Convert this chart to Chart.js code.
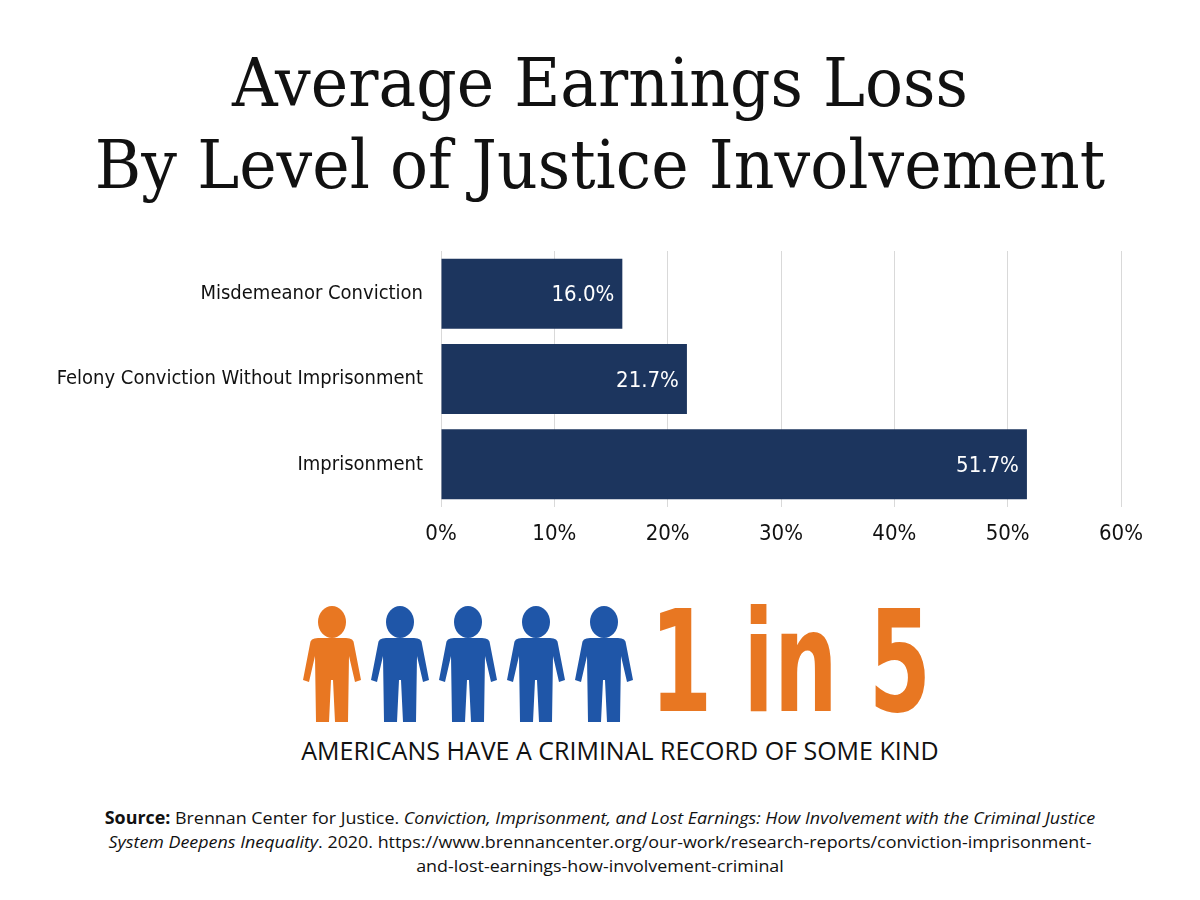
<!DOCTYPE html>
<html><head><meta charset="utf-8">
<script src="https://cdn.jsdelivr.net/npm/chart.js@4"></script>
<style>
body{margin:0;width:1200px;height:900px;background:#fff;position:relative;overflow:hidden;font-family:"Open Sans",sans-serif}
#title{position:absolute;top:42px;left:0;width:1200px;text-align:center;font-family:"DejaVu Serif",serif;font-size:68px;line-height:82px;color:#111;transform:scaleX(0.93)}
#cwrap{position:absolute;left:0;top:0;width:1200px;height:560px}
#icons{position:absolute;left:290px;top:600px}
#big{position:absolute;left:650px;top:588px;font-family:"DejaVu Sans Condensed","DejaVu Sans",sans-serif;font-weight:bold;font-size:140px;line-height:150px;color:#E87722;transform:scaleX(0.71);transform-origin:left;white-space:nowrap}
#sub{position:absolute;top:733px;width:1200px;text-align:center;font-size:25px;color:#111;left:20px}
#src{position:absolute;top:806px;left:0;width:1200px;text-align:center;font-size:17.2px;line-height:24px;color:#111;white-space:nowrap;transform:scaleX(1.04)}
</style></head><body>
<div id="title">Average Earnings Loss<br>By Level of Justice Involvement</div>
<div id="cwrap"><canvas id="c"></canvas></div>
<canvas id="icons" width="360" height="130"></canvas>
<div id="big">1 in 5</div>
<div id="sub">AMERICANS HAVE A CRIMINAL RECORD OF SOME KIND</div>
<div id="src"><b>Source:</b> Brennan Center for Justice. <i>Conviction, Imprisonment, and Lost Earnings: How Involvement with the Criminal Justice</i><br><i>System Deepens Inequality</i>. 2020. https://www.brennancenter.org/our-work/research-reports/conviction-imprisonment-<br>and-lost-earnings-how-involvement-criminal</div>
<script>
const categories=["Misdemeanor Conviction","Felony Conviction Without Imprisonment","Imprisonment"];
const earningsLoss=[16.0,21.7,51.7];
const tickValues=[0,10,20,30,40,50,60];
const FONT='"DejaVu Sans Condensed", sans-serif';

const labelPlugin={id:'lbl',afterDatasetsDraw(ch){
 const ctx=ch.ctx;const meta=ch.getDatasetMeta(0);
 ctx.save();ctx.fillStyle='#fff';ctx.font='22px '+FONT;
 ctx.textAlign='right';ctx.textBaseline='middle';
 meta.data.forEach((b,i)=>ctx.fillText(earningsLoss[i].toFixed(1)+'%',b.x-8,b.y+2));
 ctx.restore();}};

new Chart(document.getElementById('c'),{type:'bar',
 data:{labels:categories,datasets:[{data:earningsLoss,backgroundColor:'#1C355E',barPercentage:0.82,categoryPercentage:1}]},
 options:{indexAxis:'y',responsive:true,maintainAspectRatio:false,animation:false,
  layout:{padding:{top:251,right:79,left:0,bottom:0}},
  plugins:{legend:{display:false},tooltip:{enabled:false}},
  scales:{
   x:{min:0,max:60,afterBuildTicks(s){s.ticks=tickValues.map(v=>({value:v}));},
      afterFit(s){s.height=53;},
      grid:{color:'#d9d9d9',drawTicks:false},border:{display:false},
      ticks:{padding:14,color:'#111',font:{family:FONT,size:22},callback:v=>v+'%'}},
   y:{afterFit(s){s.width=441;},grid:{display:false},border:{display:false},
      ticks:{padding:10,color:'#111',font:{family:FONT,size:20}}}
  }},plugins:[labelPlugin]});

const ic=document.getElementById('icons').getContext('2d');
function person(cx,color){
 ic.fillStyle=color;
 ic.beginPath();ic.ellipse(cx,22,14,16,0,0,Math.PI*2);ic.fill();
 ic.beginPath();
 ic.moveTo(cx-22,44);ic.quadraticCurveTo(cx-22,38,cx-14,38);ic.lineTo(cx+14,38);ic.quadraticCurveTo(cx+22,38,cx+22,44);
 ic.lineTo(cx+29,80);ic.lineTo(cx+23,82);ic.lineTo(cx+17,56);ic.lineTo(cx+16,122);ic.lineTo(cx+3,122);ic.lineTo(cx+1,80);
 ic.lineTo(cx-1,80);ic.lineTo(cx-3,122);ic.lineTo(cx-16,122);ic.lineTo(cx-17,56);ic.lineTo(cx-23,82);ic.lineTo(cx-29,80);ic.closePath();ic.fill();
}
person(42,'#E87722');
[110,178,246,314].forEach(x=>person(x,'#1F56A8'));
</script></body></html>
